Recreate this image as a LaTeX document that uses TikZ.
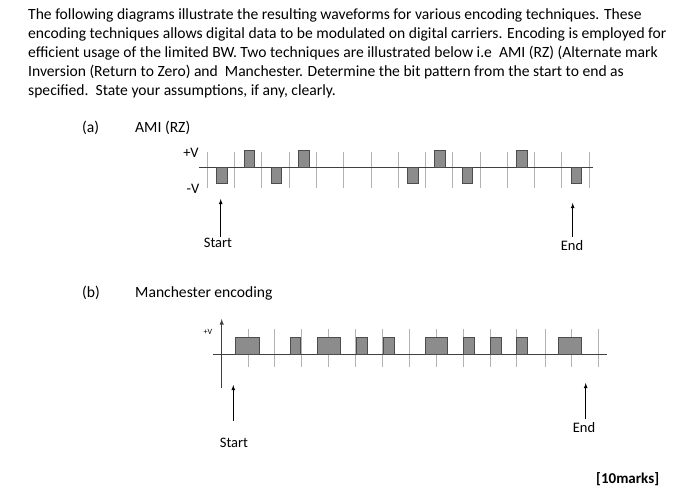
\documentclass[tikz,border=0pt]{standalone}
\usepackage{fontspec}
\setmainfont{Carlito}
\begin{document}
\begin{tikzpicture}[x=1pt,y=-1pt,
  txt/.style={anchor=base west,inner sep=0pt,font=\fontsize{15.6}{17}\selectfont},
  lbl/.style={inner sep=0pt,font=\fontsize{14.5}{15}\selectfont},
  pulse/.style={draw=black!70,fill=black!45,line width=0.8pt},
  tick/.style={draw=black!30,line width=0.8pt},
  axis/.style={draw=black!75,line width=0.9pt},
  arr/.style={-latex,line width=0.8pt}]
\useasboundingbox (0,0) rectangle (681,499);
\node[txt] (l1) at (28,19) {The following diagrams illustrate the resulting waveforms for various encoding techniques. These};
\node[txt] (l2) at (28,38) {encoding techniques allows digital data to be modulated on digital carriers. Encoding is employed for};
\node[txt] (l3) at (28,57) {efficient usage of the limited BW. Two techniques are illustrated below i.e\ \ AMI (RZ) (Alternate mark};
\node[txt] (l4) at (28,76) {Inversion (Return to Zero) and\ \ Manchester. Determine the bit pattern from the start to end as};
\node[txt] (l5) at (28,95) {specified.\ \ State your assumptions, if any, clearly.};
\node[txt] (a) at (82,132) {(a)};
\node[txt] (ami) at (135,132) {AMI (RZ)};
\node[txt] (b) at (82,297) {(b)};
\node[txt] (man) at (135,297) {Manchester encoding};
\node[txt,font=\fontsize{15}{17}\selectfont\bfseries] (marks) at (596,483) {[10marks]};
% AMI
\foreach \i in {0,...,14} \draw[tick] ({207.3+27.27*\i},151.7) -- ({207.3+27.27*\i},188.3);
\draw[axis] (199,167.3) -- (593,167.3);
\foreach \i/\s in {0/-1,1/1,2/-1,3/1,7/-1,8/1,9/-1,11/1,13/-1}
  \draw[pulse] ({216.7+27.27*\i},167.3) rectangle ({227.3+27.27*\i},{167.3-16.5*\s});
\node[lbl] (pv) at (191,153) {+V};
\node[lbl] (mv) at (193,189) {-V};
\coordinate (s1) at (220.7,236.7); \coordinate (s1t) at (220.7,199);
\draw[arr] (s1) -- (s1t);
\node[lbl] (st1) at (218,243) {Start};
\coordinate (e1) at (572.7,236.7); \coordinate (e1t) at (572.7,203);
\draw[arr] (e1) -- (e1t);
\node[lbl] (en1) at (572,246) {End};
% Manchester
\foreach \x in {248.3,274,301,328.3,355,382.3,409,436.7,463.3,490,516.7,545,571.7,598.3}
  \draw[tick] (\x,329) -- (\x,366.7);
\draw[axis] (212.7,354.3) -- (606.7,354.3);
\coordinate (va) at (221.7,387.7); \coordinate (vt) at (221.7,319);
\draw[axis,-latex] (va) -- (vt);
\foreach \a/\b in {235.7/259,290/300.7,317.7/340.7,356/367.3,383.3/394,425/447.7,463.3/474.3,490.7/501.7,516.7/527.7,558.3/581}
  \draw[pulse] (\a,354.3) rectangle (\b,337);
\node[lbl,font=\fontsize{8}{9}\selectfont] (pv2) at (208,332) {+V};
\coordinate (s2) at (233.3,421); \coordinate (s2t) at (233.3,385);
\draw[arr] (s2) -- (s2t);
\node[lbl] (st2) at (234,443) {Start};
\coordinate (e2) at (585.7,419); \coordinate (e2t) at (585.7,383);
\draw[arr] (e2) -- (e2t);
\node[lbl] (en2) at (584,428) {End};
\end{tikzpicture}
\end{document}
